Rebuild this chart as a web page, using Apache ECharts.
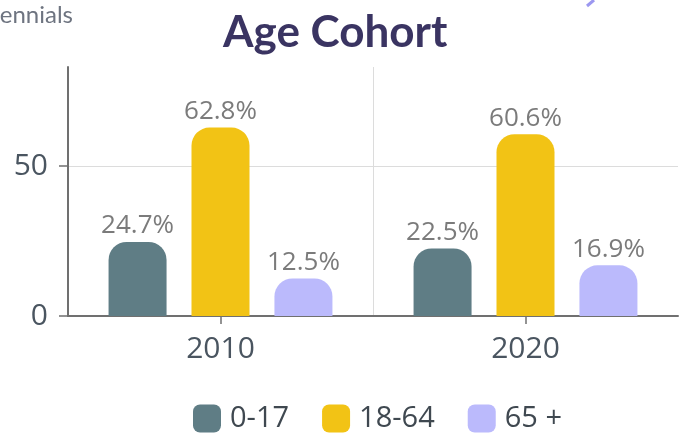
<!DOCTYPE html>
<html>
<head>
<meta charset="utf-8">
<script src="https://cdn.jsdelivr.net/npm/echarts@6/dist/echarts.min.js"></script>
<style>
html,body{margin:0;padding:0;background:#fff;}
#chart{width:690px;height:436px;}
</style>
</head>
<body>
<div id="chart"></div>
<script>
const categories = ['2010', '2020'];
const seriesNames = ['0-17', '18-64', '65 +'];
const values0to17 = [24.7, 22.5];
const values18to64 = [62.8, 60.6];
const values65plus = [12.5, 16.9];
const yTicks = [0, 50];

const colors = ['#5f7d85', '#f2c315', '#bbbafc'];
const allValues = [values0to17, values18to64, values65plus];

const chart = echarts.init(document.getElementById('chart'), null, {renderer: 'canvas'});

const series = seriesNames.map((name, i) => ({
  name: name,
  type: 'bar',
  data: allValues[i],
  barWidth: 58,
  barGap: '43%',
  itemStyle: {color: colors[i], borderRadius: [18, 18, 0, 0]},
  label: {
    show: true,
    position: 'top',
    distance: 3,
    formatter: p => p.value.toFixed(1) + '%',
    color: '#7b7b7b',
    fontFamily: 'Open Sans',
    fontSize: 26
  }
}));

chart.setOption({
  animation: false,
  backgroundColor: '#ffffff',
  title: {
    text: 'Age Cohort',
    left: 218,
    top: 6,
    textStyle: {fontFamily: 'Lato', fontWeight: 'bold', fontSize: 44, color: '#3a3462'}
  },
  graphic: [
    {
      type: 'text',
      right: 617,
      top: 3,
      style: {text: 'Millennials', fontFamily: 'Lato', fontSize: 24, fill: '#6e7480'}
    },
    {
      type: 'line',
      shape: {x1: 587, y1: 6, x2: 594, y2: 0},
      style: {stroke: '#9c98f0', lineWidth: 3}
    }
  ],
  legend: {
    left: 188,
    top: 399,
    itemWidth: 28,
    itemHeight: 28,
    itemGap: 33,
    icon: 'roundRect',
    data: seriesNames,
    textStyle: {fontFamily: 'Open Sans', fontSize: 29, color: '#3f4850', padding: [0, 0, 0, 4]}
  },
  grid: {left: 68, right: 12, top: 67, bottom: 120, containLabel: false},
  xAxis: {
    type: 'category',
    data: categories,
    boundaryGap: true,
    axisLine: {lineStyle: {color: '#707070', width: 2}},
    axisTick: {show: true, alignWithLabel: true, length: 8, lineStyle: {color: '#707070', width: 1.5}},
    axisLabel: {fontFamily: 'Open Sans', fontSize: 30, color: '#4a5560', margin: 18},
    splitLine: {show: true, showMinLine: false, showMaxLine: false, lineStyle: {color: '#dcdcdc', width: 1}}
  },
  yAxis: {
    type: 'value',
    min: yTicks[0],
    max: 83,
    interval: yTicks[1] - yTicks[0],
    axisLine: {show: true, lineStyle: {color: '#707070', width: 2}},
    axisTick: {show: true, length: 9, lineStyle: {color: '#707070', width: 1.5}},
    axisLabel: {fontFamily: 'Open Sans', fontSize: 30, color: '#4a5560', margin: 20, showMaxLabel: false},
    splitLine: {show: true, showMaxLine: false, lineStyle: {color: '#dcdcdc', width: 1}}
  },
  series: series
});
</script>
</body>
</html>
